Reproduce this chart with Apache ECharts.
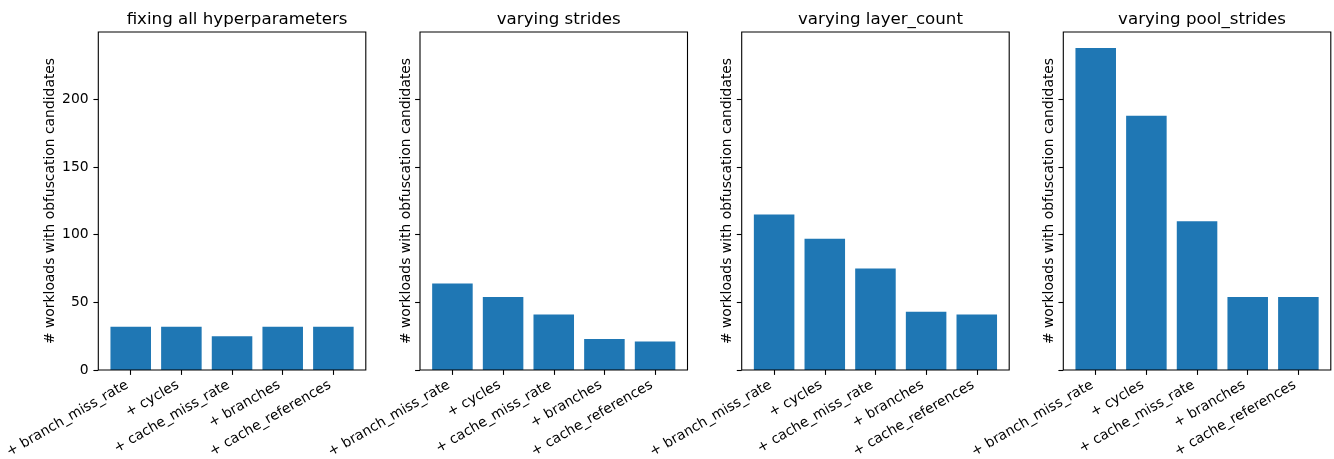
<!DOCTYPE html>
<html>
<head>
<meta charset="utf-8">
<script src="https://cdn.jsdelivr.net/npm/echarts@6/dist/echarts.min.js"></script>
<style>html,body{margin:0;padding:0;background:#fff}#c{width:1334px;height:459px}</style>
</head>
<body>
<div id="c"></div>
<script>
// ---- data ----
const categories = ['+ branch_miss_rate', '+ cycles', '+ cache_miss_rate', '+ branches', '+ cache_references'];
const titles = ['fixing all hyperparameters', 'varying strides', 'varying layer_count', 'varying pool_strides'];
const fixingAll = [32, 32, 25, 32, 32];
const varyingStrides = [64, 54, 41, 23, 21];
const varyingLayerCount = [115, 97, 75, 43, 41];
const varyingPoolStrides = [238, 188, 110, 54, 54];
const yTicks = [0, 50, 100, 150, 200];
const yLabel = '# workloads with obfuscation candidates';
const seriesData = [fixingAll, varyingStrides, varyingLayerCount, varyingPoolStrides];

// ---- layout ----
const frameLefts = [98.3, 420, 741.7, 1063.3];
const frameW = 267.5, frameTop = 32, frameH = 338;
const unit = frameW / 5.28;         // matplotlib: 5 bars, width 0.8, margins 0.05
const inset = 0.14 * unit;
const yMax = Math.max(...varyingPoolStrides) * 1.05;
const FONT = 'DejaVu Sans';
const fs = 13.89, tfs = 16.67;

const grids = [], xAxes = [], yAxes = [], series = [], title = [], graphics = [];
frameLefts.forEach((L, i) => {
  grids.push({left: L + inset, top: frameTop, width: 5 * unit, height: frameH,
    containLabel: false, outerBoundsMode: 'none'});
  xAxes.push({
    type: 'category', gridIndex: i, data: categories,
    axisLine: {show: false},
    axisTick: {show: true, alignWithLabel: true, length: 4.9, lineStyle: {color: '#000', width: 1.1}},
    axisLabel: {rotate: 30, interval: 0, margin: 12, color: '#000', fontFamily: FONT, fontSize: fs, padding: [0, 4, 0, 0]}
  });
  yAxes.push({
    type: 'value', gridIndex: i, min: 0, max: yMax, interval: 50, offset: inset,
    splitLine: {show: false},
    axisLine: {show: false},
    axisTick: {show: true, length: 4.9, lineStyle: {color: '#000', width: 1.1},
      customValues: yTicks},
    axisLabel: {show: i === 0, color: '#000', fontFamily: FONT, fontSize: fs, margin: 9.7,
      customValues: yTicks, verticalAlignMinLabel: 'middle', verticalAlignMaxLabel: 'middle',
      verticalAlign: 'middle'},
    name: yLabel, nameLocation: 'middle', nameGap: i === 0 ? 41 : 7, nameRotate: 90,
    nameTextStyle: {color: '#000', fontFamily: FONT, fontSize: fs}
  });
  series.push({
    type: 'bar', xAxisIndex: i, yAxisIndex: i, data: seriesData[i],
    barWidth: 0.8 * unit, itemStyle: {color: '#1f77b4', borderWidth: 0}, silent: true
  });
  title.push({
    text: titles[i], left: L + frameW / 2, top: 6, textAlign: 'center',
    textStyle: {color: '#000', fontFamily: FONT, fontSize: tfs, fontWeight: 'normal'}
  });
  graphics.push({
    type: 'rect', shape: {x: L, y: frameTop, width: frameW, height: frameH},
    style: {fill: 'none', stroke: '#000', lineWidth: 1.1}, silent: true, z: 100
  });
});

const chart = echarts.init(document.getElementById('c'), null, {renderer: 'canvas'});
chart.setOption({
  animation: false,
  backgroundColor: '#fff',
  title, grid: grids, xAxis: xAxes, yAxis: yAxes, series,
  graphic: graphics
});
</script>
</body>
</html>
